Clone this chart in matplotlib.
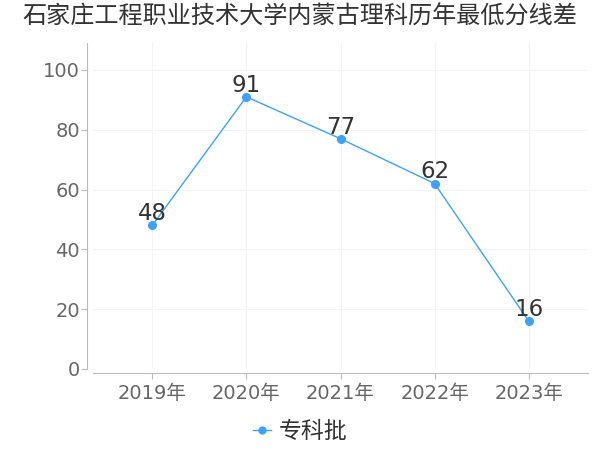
#!/usr/bin/env python3
"""石家庄工程职业技术大学 内蒙古理科 历年最低分线差"""

import matplotlib
matplotlib.use("Agg")
import matplotlib.pyplot as plt

plt.rcParams['font.family'] = ['DejaVu Sans', 'Noto Sans CJK SC']

title = "石家庄工程职业技术大学内蒙古理科历年最低分线差"
years = ["2019年", "2020年", "2021年", "2022年", "2023年"]
diffs = [48, 91, 77, 62, 16]
series_name = "专科批"
y_ticks = [0, 20, 40, 60, 80, 100]

line_color = "#3fa0ff"
cjk = ['Noto Sans CJK SC', 'DejaVu Sans']


def main() -> None:
    fig = plt.figure(figsize=(6, 4.5), dpi=100)
    ax = fig.add_axes([93 / 600, 1 - 369 / 450, 495 / 600, 326 / 450])

    xs = list(range(len(years)))
    ax.plot(xs, diffs, color=line_color, lw=1, marker="o", ms=5.5,
            label=series_name)
    # value labels sit right on top of each point
    for x, v in zip(xs, diffs):
        ax.text(x, v + 1.7, str(v), ha="center", va="baseline",
                fontsize=16.5, color="#333333")

    ax.set_xlim(-0.63, 4.63)
    ax.set_ylim(0, 109)
    ax.set_xticks(xs)
    ax.set_xticklabels(years)
    ax.set_yticks(y_ticks)

    ax.grid(True, color="#f3f3f3", lw=0.8)
    ax.set_axisbelow(True)
    for side in ("top", "right"):
        ax.spines[side].set_visible(False)
    ax.spines["left"].set_position(("outward", 4))
    ax.spines["bottom"].set_position(("outward", 3))
    for side in ("left", "bottom"):
        ax.spines[side].set_color("#bbbbbb")
    ax.tick_params(axis="both", colors="#bbbbbb", labelcolor="#666666",
                   labelsize=14, length=4)
    ax.tick_params(axis="y", length=4, pad=1.5)

    fig.text(0.5, 1 - 17 / 450, title, ha="center", va="center",
             fontsize=17.4, color="#333333", family=cjk)

    ax.legend(loc="center", bbox_to_anchor=(0.5, 1 - 432 / 450),
              bbox_transform=fig.transFigure, frameon=False,
              handlelength=0.8, handletextpad=0.3, markerscale=0.9,
              prop={"family": cjk, "size": 16.5}, labelcolor="#333333")

    fig.savefig("out.png", dpi=100)


if __name__ == "__main__":
    main()
